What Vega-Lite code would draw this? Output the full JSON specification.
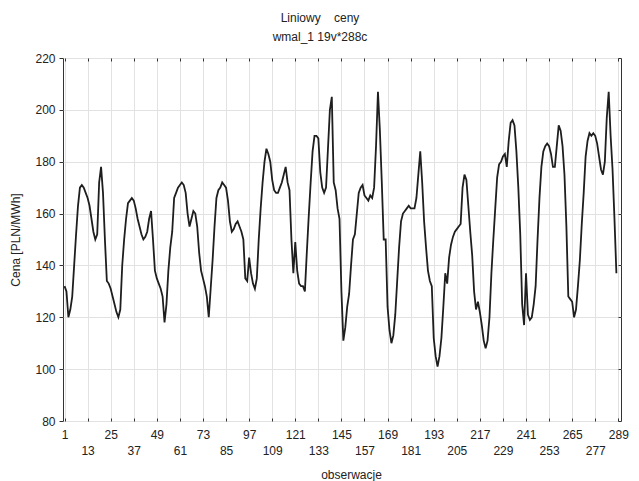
{
  "$schema": "https://vega.github.io/schema/vega-lite/v6.json",
  "autosize": {"type": "none"},
  "padding": {"left": 63, "top": 58, "right": 18, "bottom": 60},
  "width": 558,
  "height": 363,
  "background": "white",
  "title": {
    "text": "Liniowy\u00a0\u00a0\u00a0 ceny",
    "subtitle": "wmal_1 19v*288c",
    "font": "Liberation Sans",
    "subtitleFont": "Liberation Sans",
    "fontSize": 12,
    "subtitleFontSize": 12,
    "fontWeight": "normal",
    "color": "#222222",
    "subtitleColor": "#222222",
    "anchor": "middle",
    "dx": -22,
    "offset": 8,
    "subtitlePadding": 7
  },
  "config": {
    "view": {"stroke": "#333333", "strokeWidth": 1},
    "axis": {
      "labelFont": "Liberation Sans",
      "titleFont": "Liberation Sans",
      "labelFontSize": 12,
      "titleFontSize": 12,
      "titleFontWeight": "normal",
      "labelColor": "#222222",
      "titleColor": "#222222",
      "tickColor": "#333333",
      "gridColor": "#e2e2e2",
      "gridWidth": 1,
      "domain": false
    }
  },
  "data": {
    "values": [
      {"o":1,"v":132},{"o":2,"v":130},{"o":3,"v":120},{"o":4,"v":123},{"o":5,"v":128},{"o":6,"v":140},{"o":7,"v":152},{"o":8,"v":163},{"o":9,"v":170},{"o":10,"v":171},
      {"o":11,"v":170},{"o":12,"v":168},{"o":13,"v":166},{"o":14,"v":163},{"o":15,"v":158},{"o":16,"v":153},{"o":17,"v":150},{"o":18,"v":152},{"o":19,"v":172},{"o":20,"v":178},
      {"o":21,"v":168},{"o":22,"v":150},{"o":23,"v":134},{"o":24,"v":133},{"o":25,"v":131},{"o":26,"v":128},{"o":27,"v":125},{"o":28,"v":122},{"o":29,"v":120},{"o":30,"v":123},
      {"o":31,"v":140},{"o":32,"v":150},{"o":33,"v":158},{"o":34,"v":164},{"o":35,"v":165},{"o":36,"v":166},{"o":37,"v":165},{"o":38,"v":162},{"o":39,"v":158},{"o":40,"v":155},
      {"o":41,"v":152},{"o":42,"v":150},{"o":43,"v":151},{"o":44,"v":153},{"o":45,"v":158},{"o":46,"v":161},{"o":47,"v":150},{"o":48,"v":138},{"o":49,"v":135},{"o":50,"v":133},
      {"o":51,"v":131},{"o":52,"v":128},{"o":53,"v":118},{"o":54,"v":125},{"o":55,"v":138},{"o":56,"v":147},{"o":57,"v":153},{"o":58,"v":166},{"o":59,"v":168},{"o":60,"v":170},
      {"o":61,"v":171},{"o":62,"v":172},{"o":63,"v":171},{"o":64,"v":168},{"o":65,"v":160},{"o":66,"v":155},{"o":67,"v":158},{"o":68,"v":161},{"o":69,"v":160},{"o":70,"v":155},
      {"o":71,"v":145},{"o":72,"v":138},{"o":73,"v":135},{"o":74,"v":132},{"o":75,"v":128},{"o":76,"v":120},{"o":77,"v":131},{"o":78,"v":142},{"o":79,"v":155},{"o":80,"v":166},
      {"o":81,"v":169},{"o":82,"v":170},{"o":83,"v":172},{"o":84,"v":171},{"o":85,"v":170},{"o":86,"v":165},{"o":87,"v":157},{"o":88,"v":153},{"o":89,"v":154},{"o":90,"v":156},
      {"o":91,"v":157},{"o":92,"v":155},{"o":93,"v":153},{"o":94,"v":150},{"o":95,"v":135},{"o":96,"v":134},{"o":97,"v":143},{"o":98,"v":137},{"o":99,"v":133},{"o":100,"v":131},
      {"o":101,"v":135},{"o":102,"v":150},{"o":103,"v":162},{"o":104,"v":172},{"o":105,"v":180},{"o":106,"v":185},{"o":107,"v":183},{"o":108,"v":180},{"o":109,"v":173},{"o":110,"v":169},
      {"o":111,"v":168},{"o":112,"v":168},{"o":113,"v":170},{"o":114,"v":172},{"o":115,"v":175},{"o":116,"v":178},{"o":117,"v":172},{"o":118,"v":169},{"o":119,"v":150},{"o":120,"v":137},
      {"o":121,"v":149},{"o":122,"v":138},{"o":123,"v":133},{"o":124,"v":132},{"o":125,"v":132},{"o":126,"v":130},{"o":127,"v":145},{"o":128,"v":159},{"o":129,"v":172},{"o":130,"v":184},
      {"o":131,"v":190},{"o":132,"v":190},{"o":133,"v":189},{"o":134,"v":176},{"o":135,"v":170},{"o":136,"v":168},{"o":137,"v":170},{"o":138,"v":185},{"o":139,"v":200},{"o":140,"v":205},
      {"o":141,"v":172},{"o":142,"v":169},{"o":143,"v":162},{"o":144,"v":158},{"o":145,"v":130},{"o":146,"v":111},{"o":147,"v":116},{"o":148,"v":124},{"o":149,"v":129},{"o":150,"v":140},
      {"o":151,"v":150},{"o":152,"v":152},{"o":153,"v":160},{"o":154,"v":168},{"o":155,"v":170},{"o":156,"v":171},{"o":157,"v":167},{"o":158,"v":166},{"o":159,"v":165},{"o":160,"v":167},
      {"o":161,"v":166},{"o":162,"v":170},{"o":163,"v":186},{"o":164,"v":207},{"o":165,"v":192},{"o":166,"v":172},{"o":167,"v":150},{"o":168,"v":150},{"o":169,"v":124},{"o":170,"v":115},
      {"o":171,"v":110},{"o":172,"v":113},{"o":173,"v":121},{"o":174,"v":134},{"o":175,"v":147},{"o":176,"v":157},{"o":177,"v":160},{"o":178,"v":161},{"o":179,"v":162},{"o":180,"v":163},
      {"o":181,"v":162},{"o":182,"v":162},{"o":183,"v":162},{"o":184,"v":166},{"o":185,"v":175},{"o":186,"v":184},{"o":187,"v":172},{"o":188,"v":157},{"o":189,"v":147},{"o":190,"v":138},
      {"o":191,"v":134},{"o":192,"v":132},{"o":193,"v":112},{"o":194,"v":105},{"o":195,"v":101},{"o":196,"v":105},{"o":197,"v":112},{"o":198,"v":124},{"o":199,"v":137},{"o":200,"v":133},
      {"o":201,"v":143},{"o":202,"v":148},{"o":203,"v":151},{"o":204,"v":153},{"o":205,"v":154},{"o":206,"v":155},{"o":207,"v":156},{"o":208,"v":170},{"o":209,"v":175},{"o":210,"v":173},
      {"o":211,"v":163},{"o":212,"v":153},{"o":213,"v":144},{"o":214,"v":130},{"o":215,"v":123},{"o":216,"v":126},{"o":217,"v":122},{"o":218,"v":117},{"o":219,"v":111},{"o":220,"v":108},
      {"o":221,"v":111},{"o":222,"v":120},{"o":223,"v":137},{"o":224,"v":150},{"o":225,"v":162},{"o":226,"v":174},{"o":227,"v":179},{"o":228,"v":180},{"o":229,"v":182},{"o":230,"v":183},
      {"o":231,"v":178},{"o":232,"v":188},{"o":233,"v":195},{"o":234,"v":196},{"o":235,"v":194},{"o":236,"v":184},{"o":237,"v":170},{"o":238,"v":152},{"o":239,"v":125},{"o":240,"v":117},
      {"o":241,"v":137},{"o":242,"v":121},{"o":243,"v":119},{"o":244,"v":120},{"o":245,"v":125},{"o":246,"v":132},{"o":247,"v":150},{"o":248,"v":166},{"o":249,"v":178},{"o":250,"v":184},
      {"o":251,"v":186},{"o":252,"v":187},{"o":253,"v":186},{"o":254,"v":183},{"o":255,"v":178},{"o":256,"v":178},{"o":257,"v":186},{"o":258,"v":194},{"o":259,"v":192},{"o":260,"v":186},
      {"o":261,"v":175},{"o":262,"v":155},{"o":263,"v":128},{"o":264,"v":127},{"o":265,"v":126},{"o":266,"v":120},{"o":267,"v":123},{"o":268,"v":132},{"o":269,"v":142},{"o":270,"v":156},
      {"o":271,"v":168},{"o":272,"v":182},{"o":273,"v":188},{"o":274,"v":191},{"o":275,"v":190},{"o":276,"v":191},{"o":277,"v":190},{"o":278,"v":187},{"o":279,"v":182},{"o":280,"v":177},
      {"o":281,"v":175},{"o":282,"v":180},{"o":283,"v":197},{"o":284,"v":207},{"o":285,"v":190},{"o":286,"v":177},{"o":287,"v":158},{"o":288,"v":137}
    ]
  },
  "layer": [
    {
      "mark": {"type": "line", "color": "#1e1e1e", "strokeWidth": 1.8},
      "encoding": {
        "x": {
          "field": "o",
          "type": "quantitative",
          "scale": {"domain": [0.2, 290.4], "nice": false, "zero": false},
          "axis": {
            "orient": "bottom",
            "values": [1, 13, 25, 37, 49, 61, 73, 85, 97, 109, 121, 133, 145, 157, 169, 181, 193, 205, 217, 229, 241, 253, 265, 277, 289],
            "labelExpr": "(datum.value - 1) % 24 == 0 ? [datum.label, ''] : ['', datum.label]",
            "labelLineHeight": 16,
            "labelPadding": 11,
            "tickSize": -3,
            "labelOverlap": false,
            "labelFlush": false,
            "grid": true,
            "title": "obserwacje",
            "titlePadding": 13,
            "titleX": 288
          }
        },
        "y": {
          "field": "v",
          "type": "quantitative",
          "scale": {"domain": [80, 220], "nice": false, "zero": false},
          "axis": {
            "orient": "left",
            "values": [80, 100, 120, 140, 160, 180, 200, 220],
            "tickSize": 4,
            "labelPadding": 4,
            "grid": true,
            "title": "Cena [PLN/MWh]",
            "titlePadding": 12
          }
        }
      }
    },
    {
      "mark": {"type": "line", "opacity": 0},
      "encoding": {
        "x": {
          "field": "o",
          "type": "quantitative",
          "scale": {"domain": [0.2, 290.4], "nice": false, "zero": false},
          "axis": {
            "orient": "top",
            "values": [1, 13, 25, 37, 49, 61, 73, 85, 97, 109, 121, 133, 145, 157, 169, 181, 193, 205, 217, 229, 241, 253, 265, 277, 289],
            "labels": false,
            "tickSize": -3,
            "grid": false,
            "title": null
          }
        },
        "y": {
          "field": "v",
          "type": "quantitative",
          "scale": {"domain": [80, 220], "nice": false, "zero": false},
          "axis": {
            "orient": "right",
            "values": [80, 100, 120, 140, 160, 180, 200, 220],
            "labels": false,
            "tickSize": -3,
            "grid": false,
            "title": null
          }
        }
      }
    }
  ],
  "resolve": {"axis": {"x": "independent", "y": "independent"}}
}
